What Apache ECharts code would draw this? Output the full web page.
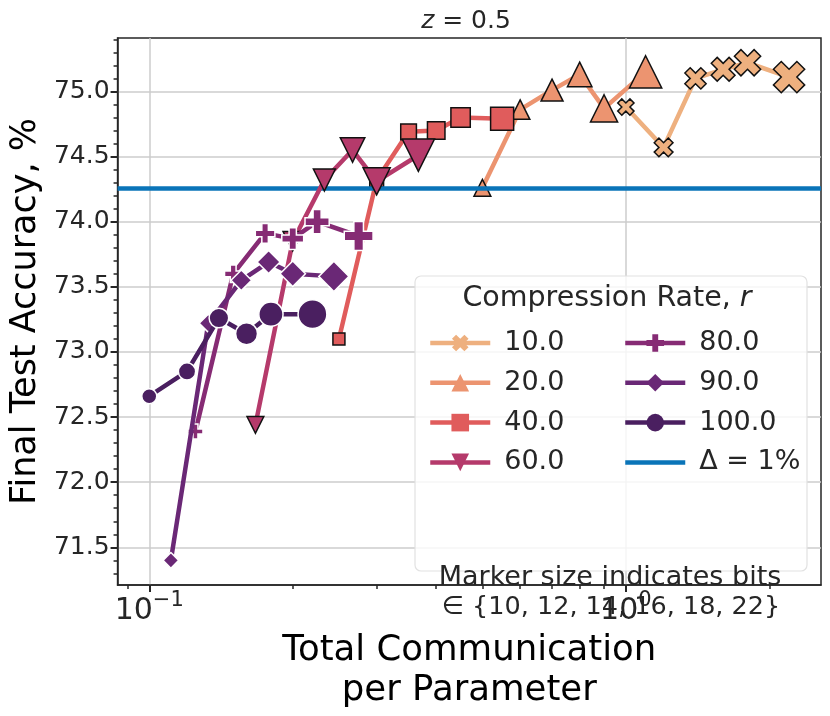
<!DOCTYPE html>
<html>
<head>
<meta charset="utf-8">
<script src="https://cdn.jsdelivr.net/npm/echarts@6/dist/echarts.min.js"></script>
<style>
  html, body { margin: 0; padding: 0; background: #fff; }
  #graph { width: 830px; height: 716px; }
</style>
</head>
<body>
<div id="graph"></div>
<script>
// number of bits used per point (marker size grows with it)
var bits = [10, 12, 14, 16, 18, 22];

// total communication per parameter (x) and final test accuracy in % (y), per compression rate
var comm10 = [1.0, 1.2, 1.4, 1.6, 1.8, 2.2];
var acc10 = [74.88, 74.57, 75.10, 75.17, 75.22, 75.11];
var comm20 = [0.5, 0.6, 0.7, 0.8, 0.9, 1.1];
var acc20 = [74.26, 74.86, 75.01, 75.13, 74.87, 75.15];
var comm40 = [0.25, 0.3, 0.35, 0.4, 0.45, 0.55];
var acc40 = [73.10, 74.32, 74.69, 74.70, 74.80, 74.79];
var comm60 = [0.167, 0.2, 0.233, 0.267, 0.3, 0.367];
var acc60 = [72.44, 73.85, 74.32, 74.55, 74.31, 74.51];
var comm80 = [0.125, 0.15, 0.175, 0.2, 0.225, 0.275];
var acc80 = [72.39, 73.60, 73.91, 73.87, 74.00, 73.89];
var comm90 = [0.111, 0.133, 0.156, 0.178, 0.2, 0.244];
var acc90 = [71.40, 73.22, 73.55, 73.69, 73.60, 73.58];
var comm100 = [0.1, 0.12, 0.14, 0.16, 0.18, 0.22];
var acc100 = [72.66, 72.85, 73.26, 73.14, 73.29, 73.29];

// accuracy 1% below the best run
var baseline = 74.26;

// axis ticks
var yTicks = [71.5, 72.0, 72.5, 73.0, 73.5, 74.0, 74.5, 75.0];
var yMinorTicks = [71.3, 71.4, 71.6, 71.7, 71.8, 71.9, 72.1, 72.2, 72.3, 72.4,
                   72.6, 72.7, 72.8, 72.9, 73.1, 73.2, 73.3, 73.4, 73.6, 73.7,
                   73.8, 73.9, 74.1, 74.2, 74.3, 74.4, 74.6, 74.7, 74.8, 74.9,
                   75.1, 75.2, 75.3, 75.4];
var xTicks = [0.1, 1];
var xMinorTicks = [0.09, 0.2, 0.3, 0.4, 0.5, 0.6, 0.7, 0.8, 0.9, 2];

var FONT = 'DejaVu Sans';
var INK = '#262626';

// filled plus, the cross is the same shape turned by 45 degrees
var plusPath = 'path://M2,0H4V2H6V4H4V6H2V4H0V2H2Z';

// build one line series for a compression rate
function rateSeries(name, xs, ys, color, symbol, rotate, scale, edge, z) {
    var points = [];
    for (var i = 0; i < xs.length; i++) {
        points.push([xs[i], ys[i]]);
    }
    return {
        name: name,
        type: 'line',
        data: points,
        z: z,
        symbol: symbol,
        symbolRotate: rotate,
        symbolSize: function (val, params) {
            return scale * (1.15 * bits[params.dataIndex] + 3.5);
        },
        showAllSymbol: true,
        lineStyle: { color: color, width: 4.5 },
        itemStyle: { color: color, borderColor: edge, borderWidth: 1.5 },
        emphasis: { disabled: true }
    };
}

var chart = echarts.init(document.getElementById('graph'));

// shared look of the two legend columns
function legendColumn(names, left) {
    return {
        data: names,
        orient: 'vertical',
        left: left,
        top: 323,
        itemWidth: 60,
        itemHeight: 22,
        itemGap: 9.8,
        selectedMode: false,
        itemStyle: { borderWidth: 0 },
        lineStyle: { width: 4.5 },
        textStyle: {
            fontFamily: FONT,
            fontSize: 27,
            color: INK,
            lineHeight: 30,
            padding: [0, 0, 0, 9]
        }
    };
}

var option = {
    animation: false,
    grid: {
        left: 117, right: 9, top: 38, bottom: 130,
        show: true, borderColor: INK, borderWidth: 1.5
    },
    xAxis: [{
        type: 'log',
        logBase: 10,
        min: 0.0858,
        max: 2.567,
        axisLine: { lineStyle: { color: INK, width: 1.5 } },
        axisTick: { customValues: xTicks, length: 7, lineStyle: { color: INK, width: 2 } },
        axisLabel: {
            customValues: xTicks,
            margin: 5,
            formatter: function (v) {
                var e = Math.round(Math.log10(v));
                return '{b|10}{s|' + (e < 0 ? '\u2212' + (-e) : e) + '}';
            },
            rich: {
                b: { fontFamily: FONT, fontSize: 30, color: INK, lineHeight: 36, verticalAlign: 'bottom' },
                s: { fontFamily: FONT, fontSize: 21, color: INK, lineHeight: 22, verticalAlign: 'top' }
            }
        },
        splitLine: { show: true, lineStyle: { color: '#cccccc', width: 1.5 } },
        name: 'Total Communication\nper Parameter',
        nameLocation: 'middle',
        nameGap: 41,
        nameTextStyle: { fontFamily: FONT, fontSize: 35.5, color: '#000', lineHeight: 40 }
    }, {
        // minor ticks only
        type: 'log',
        logBase: 10,
        min: 0.0858,
        max: 2.567,
        position: 'bottom',
        axisLine: { show: false },
        axisTick: { customValues: xMinorTicks, length: 4, lineStyle: { color: INK, width: 1.5 } },
        axisLabel: { show: false },
        splitLine: { show: false }
    }],
    yAxis: [{
        type: 'value',
        min: 71.21,
        max: 75.41,
        axisLine: { show: true, lineStyle: { color: INK, width: 1.5 } },
        axisTick: { show: true, customValues: yTicks, length: 7, lineStyle: { color: INK, width: 2 } },
        axisLabel: {
            customValues: yTicks,
            margin: 8,
            fontFamily: FONT,
            fontSize: 25,
            color: INK,
            formatter: function (v) { return v.toFixed(1); }
        },
        splitLine: { show: true, lineStyle: { color: '#cccccc', width: 1.5 } },
        name: 'Final Test Accuracy, %',
        nameLocation: 'middle',
        nameGap: 67,
        nameTextStyle: { fontFamily: FONT, fontSize: 35, color: '#000' }
    }, {
        // minor ticks only
        type: 'value',
        min: 71.21,
        max: 75.41,
        position: 'left',
        axisLine: { show: false },
        axisTick: { show: true, customValues: yMinorTicks, length: 4, lineStyle: { color: INK, width: 1.5 } },
        axisLabel: { show: false },
        splitLine: { show: false }
    }],
    legend: [
        legendColumn(['10.0', '20.0', '40.0', '60.0'], 423),
        legendColumn(['80.0', '90.0', '100.0', { name: '\u0394 = 1%', icon: 'path://M0,0H60V4.5H0Z' }], 618)
    ],
    graphic: [{
        type: 'rect',
        z: 3,
        shape: { x: 415, y: 276, width: 392, height: 295, r: 6 },
        style: { fill: 'rgba(255,255,255,0.8)', stroke: '#e2e2e2', lineWidth: 1.2 }
    }, {
        type: 'text',
        z: 10,
        x: 607,
        y: 299,
        style: {
            text: '{n|Compression Rate, }{i|r}',
            align: 'center',
            verticalAlign: 'middle',
            rich: {
                n: { fontFamily: FONT, fontSize: 28.5, fill: INK },
                i: { fontFamily: FONT, fontSize: 28.5, fontStyle: 'italic', fill: INK }
            }
        }
    }, {
        type: 'text',
        z: 10,
        x: 466,
        y: 21,
        style: {
            text: '{i|z}{n| = 0.5}',
            align: 'center',
            verticalAlign: 'middle',
            rich: {
                n: { fontFamily: FONT, fontSize: 25, fill: INK },
                i: { fontFamily: FONT, fontSize: 25, fontStyle: 'italic', fill: INK }
            }
        }
    }, {
        type: 'text',
        z: 10,
        x: 610,
        y: 578,
        style: { text: 'Marker size indicates bits', fontFamily: FONT, fontSize: 27, fill: INK, align: 'center', verticalAlign: 'middle' }
    }, {
        type: 'text',
        z: 10,
        x: 611,
        y: 607,
        style: { text: '\u2208 {10, 12, 14, 16, 18, 22}', fontFamily: FONT, fontSize: 25.5, fill: INK, align: 'center', verticalAlign: 'middle' }
    }],
    series: [
        {
            name: '\u0394 = 1%',
            type: 'line',
            data: [],
            z: 1,
            itemStyle: { color: '#0a74b8' },
            lineStyle: { color: '#0a74b8', width: 4.5 },
            markLine: {
                silent: true,
                symbol: 'none',
                label: { show: false },
                lineStyle: { color: '#0a74b8', width: 4.5, type: 'solid' },
                data: [{ yAxis: baseline }]
            }
        },
        rateSeries('10.0', comm10, acc10, '#eeb07f', plusPath, 45, 1.15, '#111', 2),
        rateSeries('20.0', comm20, acc20, '#ec9470', 'triangle', 0, 1.12, '#111', 3),
        rateSeries('40.0', comm40, acc40, '#e05c5c', 'rect', 0, 0.8, '#111', 4),
        rateSeries('60.0', comm60, acc60, '#b53a6b', 'triangle', 180, 1.12, '#111', 5),
        rateSeries('80.0', comm80, acc80, '#862b74', plusPath, 0, 1.0, '#ffffff', 6),
        rateSeries('90.0', comm90, acc90, '#6a2876', 'diamond', 0, 1.05, '#ffffff', 7),
        rateSeries('100.0', comm100, acc100, '#4a1f60', 'circle', 0, 1.0, '#ffffff', 8)
    ]
};

chart.setOption(option);
</script>
</body>
</html>
